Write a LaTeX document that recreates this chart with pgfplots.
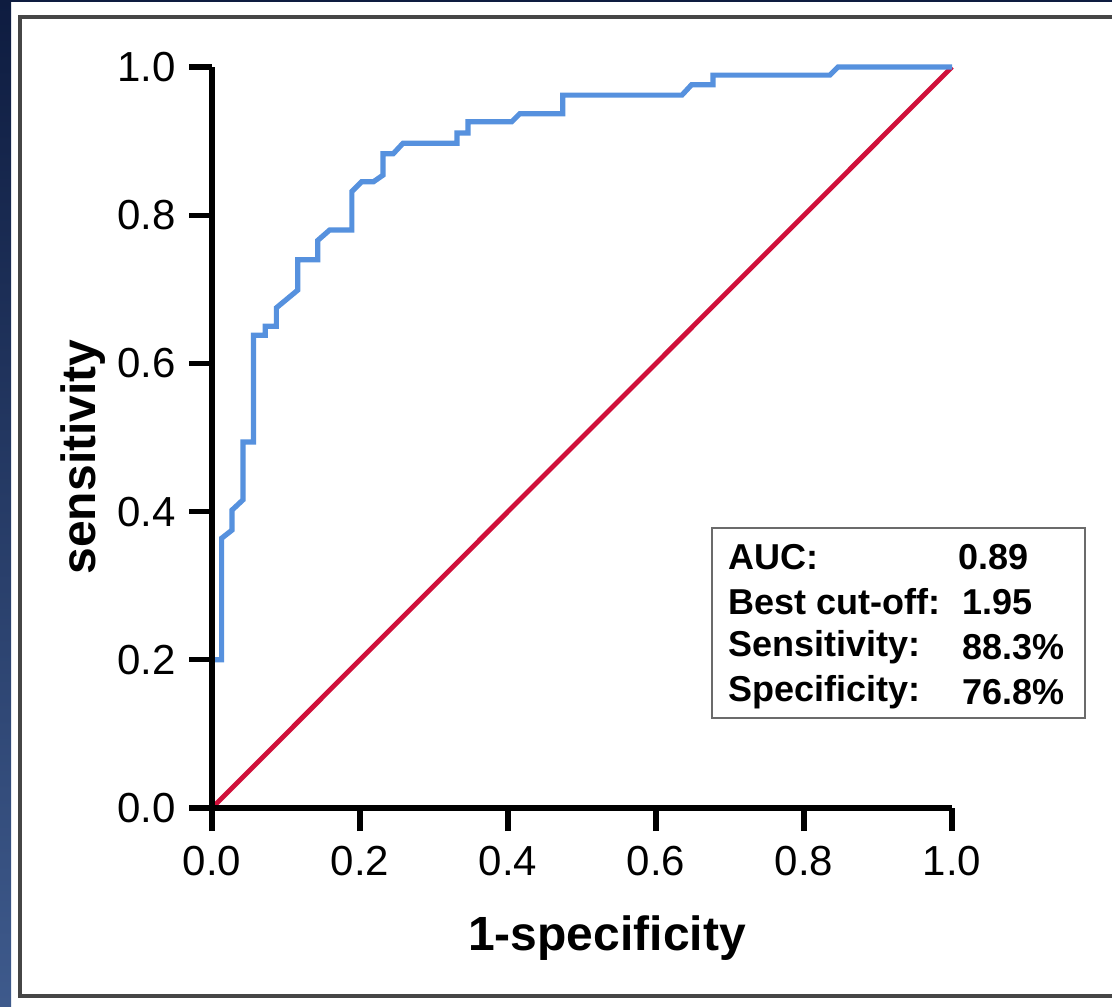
\documentclass[border=0pt]{standalone}
\usepackage{fontspec}
\setmainfont{Liberation Sans}
\usepackage{pgfplots}
\pgfplotsset{compat=1.18}
\definecolor{rocblue}{RGB}{86,145,222}
\definecolor{rocred}{RGB}{208,16,58}
\definecolor{navytop}{RGB}{14,28,64}
\definecolor{navybot}{RGB}{62,90,140}
\definecolor{frame}{RGB}{70,70,70}
\begin{document}
\begin{tikzpicture}
\path[use as bounding box] (0,0) rectangle (556pt,503pt);
\fill[white] (0,0) rectangle (556pt,503pt);
\shade[top color=navytop,bottom color=navybot] (0,0) rectangle (5.5pt,503pt);
\fill[navytop] (0,502.2pt) rectangle (556pt,503pt);
\draw[frame,line width=1.6pt] (560pt,494.5pt) -- (10pt,494.5pt) -- (10pt,5pt) -- (560pt,5pt);
\begin{axis}[
  at={(106pt,99pt)}, anchor=origin,
  scale only axis, width=370pt, height=370.5pt,
  xmin=0, xmax=1, ymin=0, ymax=1,
  axis x line*=bottom, axis y line*=left,
  axis line style={-, line width=3pt, black},
  tick style={black, line width=2.6pt},
  major tick style={black, line width=2.6pt},
  tick align=outside, major tick length=11.5pt,
  xtick={0,0.2,0.4,0.6,0.8,1.0}, ytick={0,0.2,0.4,0.6,0.8,1.0},
  xticklabel style={/pgf/number format/.cd, fixed, fixed zerofill, precision=1, assume math mode=true},
  yticklabel style={/pgf/number format/.cd, fixed, fixed zerofill, precision=1, assume math mode=true},
  tick label style={font=\fontsize{21}{25}\selectfont},
  xticklabel shift=4pt, yticklabel shift=3pt,
  axis on top,
  clip=false,
]
\addplot[rocred, line width=2.4pt] coordinates {(0,0) (1,1)};
\addplot[rocblue, line width=2.6pt, line join=miter] coordinates {
(0,0) (0,0.20) (0.013,0.20) (0.013,0.364) (0.027,0.375) (0.027,0.402)
(0.042,0.416) (0.042,0.494) (0.056,0.494) (0.056,0.638) (0.072,0.638)
(0.072,0.650) (0.087,0.650) (0.087,0.675) (0.116,0.699) (0.116,0.740)
(0.143,0.740) (0.143,0.766) (0.159,0.780) (0.189,0.780) (0.189,0.832)
(0.202,0.845) (0.218,0.845) (0.231,0.854) (0.231,0.883) (0.245,0.883)
(0.258,0.897) (0.331,0.897) (0.331,0.911) (0.346,0.911) (0.346,0.926)
(0.405,0.926) (0.416,0.937) (0.474,0.937) (0.474,0.962) (0.635,0.962)
(0.648,0.976) (0.677,0.976) (0.677,0.989) (0.835,0.989) (0.846,1.0)
(1.0,1.0)};
\end{axis}
\node[rotate=90, font=\bfseries\fontsize{24}{28}\selectfont] at (41.5pt,274.5pt) {sensitivity};
\node[font=\bfseries\fontsize{24}{28}\selectfont] at (303.5pt,34pt) {1-specificity};
\draw[frame!80, line width=0.9pt, fill=white] (356pt,144pt) rectangle (542.5pt,239pt);
\begin{scope}[every node/.style={anchor=west, font=\bfseries\fontsize{18}{20}\selectfont, inner sep=0pt}]
\node at (364pt,224.5pt) {AUC:};
\node at (364pt,202pt) {Best cut-off:};
\node at (364pt,179.5pt) {Sensitivity:};
\node at (364pt,157pt) {Specificity:};
\node at (479pt,224.5pt) {0.89};
\node at (481pt,202pt) {1.95};
\node at (481pt,179.5pt) {88.3\%};
\node at (481pt,157pt) {76.8\%};
\end{scope}
\end{tikzpicture}
\end{document}
